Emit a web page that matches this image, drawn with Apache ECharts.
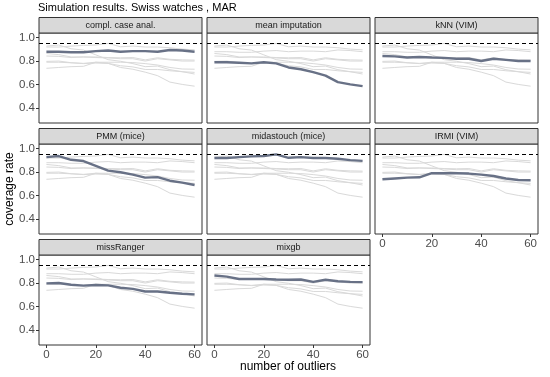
<!DOCTYPE html>
<html><head><meta charset="utf-8">
<script src="https://cdn.jsdelivr.net/npm/echarts@6/dist/echarts.min.js"></script>
<style>html,body{margin:0;padding:0;background:#fff}#c{width:550px;height:377px}</style>
</head><body><div id="c"></div>
<script>
// ---- data ----
const outliers = [0, 5, 10, 15, 20, 25, 30, 35, 40, 45, 50, 55, 60];
const complCase   = [0.880, 0.880, 0.875, 0.875, 0.885, 0.890, 0.880, 0.885, 0.885, 0.880, 0.895, 0.890, 0.880];
const meanImp     = [0.790, 0.790, 0.785, 0.780, 0.790, 0.780, 0.745, 0.730, 0.705, 0.675, 0.620, 0.600, 0.585];
const knnVim      = [0.843, 0.840, 0.830, 0.835, 0.830, 0.827, 0.820, 0.820, 0.800, 0.820, 0.810, 0.800, 0.800];
const pmmMice     = [0.928, 0.937, 0.905, 0.894, 0.853, 0.812, 0.798, 0.778, 0.752, 0.757, 0.726, 0.709, 0.689];
const midasMice   = [0.920, 0.920, 0.928, 0.934, 0.937, 0.951, 0.922, 0.928, 0.920, 0.920, 0.914, 0.902, 0.896];
const irmiVim     = [0.738, 0.745, 0.752, 0.755, 0.790, 0.790, 0.790, 0.787, 0.778, 0.766, 0.745, 0.732, 0.730];
const missRanger  = [0.797, 0.800, 0.786, 0.778, 0.783, 0.780, 0.760, 0.750, 0.728, 0.728, 0.717, 0.709, 0.703];
const mixgb       = [0.865, 0.855, 0.835, 0.835, 0.835, 0.830, 0.828, 0.830, 0.810, 0.828, 0.815, 0.810, 0.808];
const methodNames = ['compl. case anal.', 'mean imputation', 'kNN (VIM)', 'PMM (mice)', 'midastouch (mice)', 'IRMI (VIM)', 'missRanger', 'mixgb'];
const methodValues = [complCase, meanImp, knnVim, pmmMice, midasMice, irmiVim, missRanger, mixgb];
const xTicks = [0, 20, 40, 60];
const yTicks = [0.4, 0.6, 0.8, 1.0];
const nominalRate = 0.95;
const titleText = 'Simulation results. Swiss watches , MAR';
const xTitle = 'number of outliers';
const yTitle = 'coverage rate';

// ---- layout ----
const colLeft = [39, 207, 375];
const rowTop = [33, 144, 255];
const pw = 163, ph = 90, stripH = 15.5;
const FONT = "'Liberation Sans', Arial, sans-serif";

const grids = [], xAxes = [], yAxes = [], series = [], graphics = [];
methodNames.forEach((name, i) => {
  const col = i % 3, row = Math.floor(i / 3);
  grids.push({left: colLeft[col], top: rowTop[row], width: pw, height: ph, show: true,
    borderColor: '#333', borderWidth: 1, backgroundColor: '#fff'});
  const showX = row === 2 || (row === 1 && col === 2);
  const showY = col === 0;
  xAxes.push({type: 'value', gridIndex: i, min: -3, max: 63,
    axisLine: {show: false, onZero: false}, splitLine: {show: false},
    axisTick: {show: showX, customValues: xTicks, length: 3, lineStyle: {color: '#333'}},
    axisLabel: {show: showX, customValues: xTicks, color: '#4d4d4d', fontSize: 11.5, fontFamily: FONT, margin: 4}});
  yAxes.push({type: 'value', gridIndex: i, min: 0.27, max: 1.04,
    axisLine: {show: false, onZero: false}, splitLine: {show: false},
    axisTick: {show: showY, customValues: yTicks, length: 3, lineStyle: {color: '#333'}},
    axisLabel: {show: showY, customValues: yTicks, color: '#4d4d4d', fontSize: 11.5, fontFamily: FONT, margin: 4,
      formatter: v => v.toFixed(1)}});
  methodValues.forEach((vals, j) => {
    if (j === i) return;
    series.push({type: 'line', xAxisIndex: i, yAxisIndex: i, symbol: 'none', silent: true,
      lineStyle: {color: '#d9d9d9', width: 1}, z: 2,
      data: outliers.map((x, k) => [x, vals[k]])});
  });
  series.push({type: 'line', xAxisIndex: i, yAxisIndex: i, symbol: 'none', silent: true,
    lineStyle: {color: '#687186', width: 2.4}, z: 4,
    data: outliers.map((x, k) => [x, methodValues[i][k]]),
    markLine: {silent: true, symbol: 'none', label: {show: false},
      lineStyle: {type: [4, 3], color: '#000', width: 1}, data: [{yAxis: nominalRate}]}});
  graphics.push({type: 'rect', shape: {x: colLeft[col], y: rowTop[row] - stripH, width: pw, height: stripH},
    style: {fill: '#d9d9d9', stroke: '#333', lineWidth: 1}});
  graphics.push({type: 'text', x: colLeft[col] + pw / 2, y: rowTop[row] - stripH / 2,
    style: {text: name, textAlign: 'center', textVerticalAlign: 'middle', font: '9px ' + FONT, fill: '#1a1a1a'}});
});
graphics.push({type: 'text', x: 38, y: 8, style: {text: titleText, textAlign: 'left', textVerticalAlign: 'middle', font: '11px ' + FONT, fill: '#000'}});
graphics.push({type: 'text', x: 288, y: 367, style: {text: xTitle, textAlign: 'center', textVerticalAlign: 'middle', font: '12px ' + FONT, fill: '#000'}});
graphics.push({type: 'text', x: 10, y: 189, rotation: Math.PI / 2, style: {text: yTitle, textAlign: 'center', textVerticalAlign: 'middle', font: '12px ' + FONT, fill: '#000'}});

const chart = echarts.init(document.getElementById('c'), null, {renderer: 'canvas'});
chart.setOption({animation: false, grid: grids, xAxis: xAxes, yAxis: yAxes, series: series, graphic: graphics});
</script></body></html>
